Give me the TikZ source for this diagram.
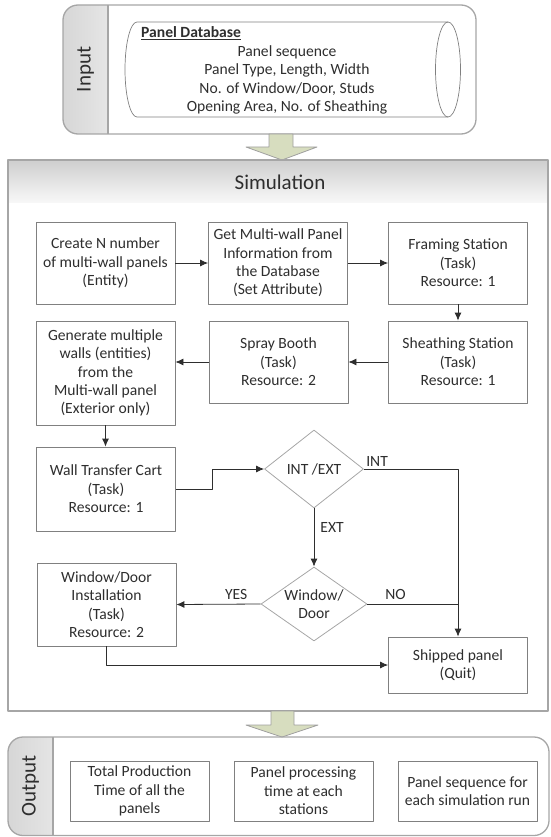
\documentclass[tikz,border=0pt]{standalone}
\usepackage{fontspec}
\setmainfont{Carlito}
\usetikzlibrary{shapes.geometric,arrows.meta}
\definecolor{txt}{HTML}{2E2E2E}
\definecolor{edge}{HTML}{808080}
\definecolor{frame}{HTML}{A6A6A6}
\definecolor{olive}{HTML}{D7DDBF}
\begin{document}
\begin{tikzpicture}[x=1pt, y=-1pt, font=\fontsize{15.6}{18.4}\selectfont, line join=round, >={Latex[length=8pt,width=7pt]},
	task/.style={draw=edge, line width=0.8pt, text=txt, align=center, inner sep=2pt, minimum width=139pt, minimum height=82pt},
	outbox/.style={task, minimum height=60pt},
	decide/.style={diamond, draw=frame, line width=0.8pt, text=txt, align=center, inner sep=0pt},
	flow/.style={->, draw=txt, line width=0.8pt},
	lbl/.style={text=txt, inner sep=2pt},
	big/.style={text=txt, font=\fontsize{21}{25}\selectfont},
	blockarrow/.style={fill=olive, draw=gray!75, line width=0.8pt}]
	\useasboundingbox (0,0) rectangle (550,837);
	% input container
	\begin{scope}
		\clip (63,0) rectangle (108,140);
		\shade[left color=gray!32, right color=gray!14, rounded corners=15pt] (63,5) rectangle (130,134);
	\end{scope}
	\draw[frame, line width=1.3pt, rounded corners=15pt] (63,5) rectangle (476,134);
	\draw[frame, line width=1.3pt] (108,5) -- (108,134);
	\node[big, rotate=90] (inputlbl) at (85.5,69.5) {Input};
	\draw[edge, line width=0.7pt] (448,22) -- (137,22) arc[start angle=270, end angle=90, x radius=12, y radius=47.5] -- (448,117);
	\draw[edge, line width=0.7pt] (448,69.5) ellipse[x radius=12.5, y radius=47.5];
	\node[lbl, anchor=west] (dbname) at (139,33) {\underline{\textbf{Panel Database}}};
	\node[lbl, align=center] (dbfields) at (287,80) {Panel sequence\\Panel Type, Length, Width\\No. of Window/Door, Studs\\Opening Area, No. of Sheathing};
	\draw[blockarrow] (269,134) -- (269,147) -- (246,147) -- (282,160) -- (317,147) -- (293,147) -- (293,134) -- cycle;
	% simulation
	\shade[top color=gray!38, bottom color=gray!6] (8,160) rectangle (548,202);
	\draw[frame, line width=1.6pt] (8,160) rectangle (548,711);
	\node[big] (simlbl) at (280,182) {Simulation};
	\node[task] (create) at (105.5,263) {Create N number\\of multi-wall panels\\(Entity)};
	\node[task] (getinfo) at (278,263) {Get Multi-wall Panel\\Information from\\the Database\\(Set Attribute)};
	\node[task] (framing) at (458,263) {Framing Station\\(Task)\\Resource: 1};
	\node[task, minimum height=104pt] (generate) at (105.5,373) {Generate multiple\\walls (entities)\\from the\\Multi-wall panel\\(Exterior only)};
	\node[task] (spray) at (278.5,362) {Spray Booth\\(Task)\\Resource: 2};
	\node[task] (sheathing) at (458,362) {Sheathing Station\\(Task)\\Resource: 1};
	\node[task, minimum height=84pt] (cart) at (106,489) {Wall Transfer Cart\\(Task)\\Resource: 1};
	\node[decide, aspect=1.27, minimum width=99pt, minimum height=78pt] (intext) at (314,469) {INT /EXT};
	\node[decide, aspect=1.43, minimum width=106pt, minimum height=74pt] (wdcheck) at (314,604) {Window/\\Door};
	\node[task, minimum height=83pt] (wdinst) at (106.5,604.5) {Window/Door\\Installation\\(Task)\\Resource: 2};
	\node[task, minimum height=56pt] (shipped) at (458,665) {Shipped panel\\(Quit)};
	\draw[flow] (create) -- (getinfo);
	\draw[flow] (getinfo) -- (framing);
	\draw[flow] (framing) -- (sheathing);
	\draw[flow] (sheathing) -- (spray);
	\draw[flow] (spray.west) -- (spray.west -| generate.east);
	\draw[flow] (generate.south) -- (generate.south |- cart.north);
	\draw[flow] (cart.east) -- ++(36,0) |- (intext.west);
	\draw[flow] (intext.east) -| (shipped.north) node[lbl, pos=0, anchor=south west] {INT};
	\draw[flow] (intext.south) -- (wdcheck.north) node[lbl, pos=0.32, right=4pt] {EXT};
	\draw[flow] (wdcheck.west) -- (wdinst.east) node[lbl, pos=0.29, above=2pt] {YES};
	\draw[txt, line width=0.8pt] (wdcheck.east) -- (wdcheck.east -| shipped.north) node[lbl, pos=0.31, above=2pt] {NO};
	\draw[flow] (wdinst.south) |- (shipped.west);
	\draw[blockarrow] (271,711) -- (271,725) -- (246,725) -- (282,737) -- (318,725) -- (294,725) -- (294,711) -- cycle;
	% output container
	\begin{scope}
		\clip (8,730) rectangle (53,837);
		\shade[left color=gray!32, right color=gray!14, rounded corners=15pt] (8,737) rectangle (80,835.5);
	\end{scope}
	\draw[frame, line width=1.3pt, rounded corners=15pt] (8,737) rectangle (549,835.5);
	\draw[frame, line width=1.3pt] (53,737) -- (53,835.5);
	\node[big, rotate=90] (outputlbl) at (30.5,786) {Output};
	\node[outbox] (out1) at (139.5,791) {Total Production\\Time of all the\\panels};
	\node[outbox] (out2) at (303.5,791) {Panel processing\\time at each\\stations};
	\node[outbox] (out3) at (467.5,791) {Panel sequence for\\each simulation run};
\end{tikzpicture}
\end{document}
